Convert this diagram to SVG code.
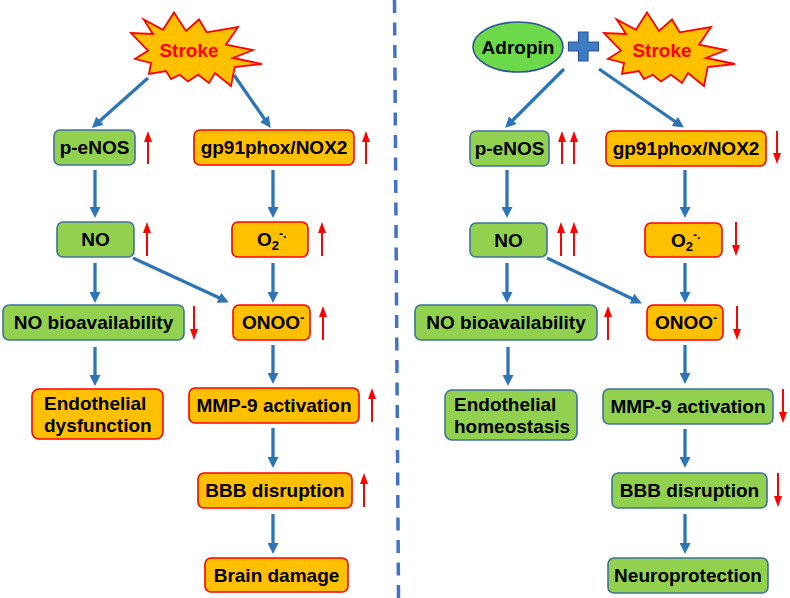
<svg xmlns="http://www.w3.org/2000/svg" width="790" height="598" viewBox="0 0 790 598">
<defs>
<style>
text{font-family:"Liberation Sans",Arial,sans-serif;font-weight:bold;font-size:19px;fill:#000}
.g{fill:#92D050;stroke:#41719C;stroke-width:1.6}
.o{fill:#FFC000;stroke:#FF0000;stroke-width:1.6}
.star{fill:#FFC000;stroke:#FF0000;stroke-width:1.8;stroke-linejoin:miter}
.st{fill:#FF0000;text-anchor:middle}
.c{text-anchor:middle}
.b{stroke:#2E75B6;stroke-width:3.3;fill:none;marker-end:url(#ab)}
.r{stroke:#FF0000;stroke-width:2;fill:none;marker-end:url(#ar)}
</style>
<marker id="ab" markerUnits="userSpaceOnUse" markerWidth="11" markerHeight="11" viewBox="0 0 11 11" refX="2" refY="5.5" orient="auto">
<path d="M0,0 L11,5.5 L0,11 z" fill="#2E75B6"/>
</marker>
<marker id="ar" markerUnits="userSpaceOnUse" markerWidth="11" markerHeight="8" viewBox="0 0 11 8" refX="2" refY="4" orient="auto">
<path d="M0,0 L11,4 L0,8 z" fill="#FF0000"/>
</marker>
<polygon id="burst" points="174,12.5 186,31 199,19.5 206.7,32.3 238,27 226,44.7 253,50 233,58 262,64 234.7,67 231,86 215,73 209,83 198,74.7 188,81.5 179.7,74.7 171,79 166,71 149,74 151,63 135,59 148,50.7 131,33 153,34 143.7,19.5 163,29.7"/>
</defs>
<rect width="790" height="598" fill="#fff"/>

<line x1="394.5" y1="0" x2="398.5" y2="598" stroke="#4472C4" stroke-width="3.5" stroke-dasharray="13 9.5"/>

<g id="connectors">
<line class="b" x1="148" y1="78" x2="98.5" y2="122"/>
<line class="b" x1="234" y1="75" x2="265.5" y2="120.5"/>
<line class="b" x1="95" y1="170" x2="95" y2="209"/>
<line class="b" x1="95" y1="263" x2="95" y2="294"/>
<line class="b" x1="95" y1="347" x2="95" y2="377"/>
<line class="b" x1="273" y1="170" x2="273" y2="209"/>
<line class="b" x1="273" y1="263" x2="273" y2="294"/>
<line class="b" x1="273" y1="345" x2="273" y2="375"/>
<line class="b" x1="273" y1="428" x2="273" y2="459"/>
<line class="b" x1="273" y1="514" x2="273" y2="545"/>
<line class="b" x1="133" y1="258" x2="220.7" y2="298.6"/>

<line class="b" x1="564" y1="69" x2="511.5" y2="121.5"/>
<line class="b" x1="599" y1="69" x2="676.5" y2="122.5"/>
<line class="b" x1="507" y1="170" x2="507" y2="209"/>
<line class="b" x1="507" y1="263" x2="507" y2="294"/>
<line class="b" x1="508" y1="347" x2="508" y2="377"/>
<line class="b" x1="685" y1="170" x2="685" y2="209"/>
<line class="b" x1="685" y1="263" x2="685" y2="294"/>
<line class="b" x1="685" y1="345" x2="685" y2="375"/>
<line class="b" x1="685" y1="429" x2="685" y2="459"/>
<line class="b" x1="685" y1="514" x2="685" y2="545"/>
<line class="b" x1="547" y1="258" x2="633.8" y2="299.5"/>
</g>

<g id="indicators">
<line class="r" x1="148" y1="164" x2="148" y2="140"/>
<line class="r" x1="366" y1="164" x2="366" y2="140"/>
<line class="r" x1="147" y1="256" x2="147" y2="231"/>
<line class="r" x1="322" y1="256" x2="322" y2="231"/>
<line class="r" x1="194" y1="306" x2="194" y2="331"/>
<line class="r" x1="323" y1="340" x2="323" y2="315"/>
<line class="r" x1="372" y1="422" x2="372" y2="397"/>
<line class="r" x1="364" y1="507" x2="364" y2="482"/>

<line class="r" x1="562" y1="164" x2="562" y2="140"/>
<line class="r" x1="574" y1="164" x2="574" y2="140"/>
<line class="r" x1="777" y1="131" x2="777" y2="155"/>
<line class="r" x1="561" y1="256" x2="561" y2="231"/>
<line class="r" x1="574" y1="256" x2="574" y2="231"/>
<line class="r" x1="736" y1="222" x2="736" y2="247"/>
<line class="r" x1="608" y1="340" x2="608" y2="315"/>
<line class="r" x1="737" y1="306" x2="737" y2="331"/>
<line class="r" x1="783" y1="389" x2="783" y2="414"/>
<line class="r" x1="778" y1="473" x2="778" y2="498"/>
</g>

<g id="stroke-left">
<use href="#burst" class="star"/>
<text class="st" x="189" y="57">Stroke</text>
</g>

<g id="peNOS-left"><rect class="g" x="54" y="130" width="81" height="35" rx="6"/><text class="c" x="94.5" y="154">p-eNOS</text></g>
<g id="gp91-left"><rect class="o" x="194" y="130" width="160" height="35" rx="6"/><text class="c" x="274" y="154">gp91phox/NOX2</text></g>
<g id="NO-left"><rect class="g" x="57" y="222" width="77" height="35" rx="6"/><text class="c" x="95.5" y="246">NO</text></g>
<g id="O2-left"><rect class="o" x="232" y="222" width="76" height="35" rx="6"/><text x="257" y="246">O<tspan font-size="13" dy="4">2</tspan><tspan font-size="12" dy="-12">-.</tspan></text></g>
<g id="NObio-left"><rect class="g" x="3" y="305" width="181" height="35" rx="6"/><text class="c" x="93.5" y="329">NO bioavailability</text></g>
<g id="ONOO-left"><rect class="o" x="233" y="305" width="77" height="35" rx="6"/><text x="242" y="329">ONOO<tspan font-size="13" dy="-7">-</tspan></text></g>
<g id="endo-left"><rect class="o" x="32" y="389" width="131" height="50" rx="7"/><text x="44" y="410">Endothelial</text><text x="44" y="432">dysfunction</text></g>
<g id="MMP-left"><rect class="o" x="189" y="388" width="170" height="35" rx="6"/><text class="c" x="274" y="412">MMP-9 activation</text></g>
<g id="BBB-left"><rect class="o" x="198" y="473" width="154" height="35" rx="6"/><text class="c" x="275" y="497">BBB disruption</text></g>
<g id="brain-left"><rect class="o" x="205" y="558" width="143" height="34" rx="6"/><text class="c" x="276.5" y="581.5">Brain damage</text></g>

<g id="adropin"><ellipse cx="518" cy="47" rx="45" ry="25" fill="#6CD94A" stroke="#2F5597" stroke-width="1.6"/><text class="c" x="518" y="53.5">Adropin</text></g>
<g id="plus"><path d="M578.5,32 h9.5 v10 h10.5 v9 h-10.5 v10 h-9.5 v-10 h-10 v-9 h10 z" fill="#3D7CC4" stroke="#2F5597" stroke-width="1.2"/></g>
<g id="stroke-right">
<use href="#burst" class="star" transform="translate(473,0)"/>
<text class="st" x="662" y="57">Stroke</text>
</g>

<g id="peNOS-right"><rect class="g" x="470" y="131" width="79" height="35" rx="6"/><text class="c" x="509.5" y="155">p-eNOS</text></g>
<g id="gp91-right"><rect class="o" x="606" y="131" width="160" height="35" rx="6"/><text class="c" x="686" y="155">gp91phox/NOX2</text></g>
<g id="NO-right"><rect class="g" x="470" y="223" width="77" height="34" rx="6"/><text class="c" x="508.5" y="246.5">NO</text></g>
<g id="O2-right"><rect class="o" x="645" y="223" width="77" height="34" rx="6"/><text x="671" y="246.5">O<tspan font-size="13" dy="4">2</tspan><tspan font-size="12" dy="-12">-.</tspan></text></g>
<g id="NObio-right"><rect class="g" x="415" y="305" width="182" height="35" rx="6"/><text class="c" x="506" y="329">NO bioavailability</text></g>
<g id="ONOO-right"><rect class="o" x="647" y="305" width="76" height="35" rx="6"/><text x="655" y="329">ONOO<tspan font-size="13" dy="-7">-</tspan></text></g>
<g id="endo-right"><rect class="g" x="445" y="390" width="132" height="50" rx="7"/><text x="454" y="411">Endothelial</text><text x="454" y="433">homeostasis</text></g>
<g id="MMP-right"><rect class="g" x="603" y="389" width="170" height="35" rx="6"/><text class="c" x="688" y="413">MMP-9 activation</text></g>
<g id="BBB-right"><rect class="g" x="612" y="473" width="155" height="35" rx="6"/><text class="c" x="689.5" y="497">BBB disruption</text></g>
<g id="neuro-right"><rect class="g" x="608" y="558" width="160" height="35" rx="6"/><text class="c" x="688" y="582">Neuroprotection</text></g>
</svg>
